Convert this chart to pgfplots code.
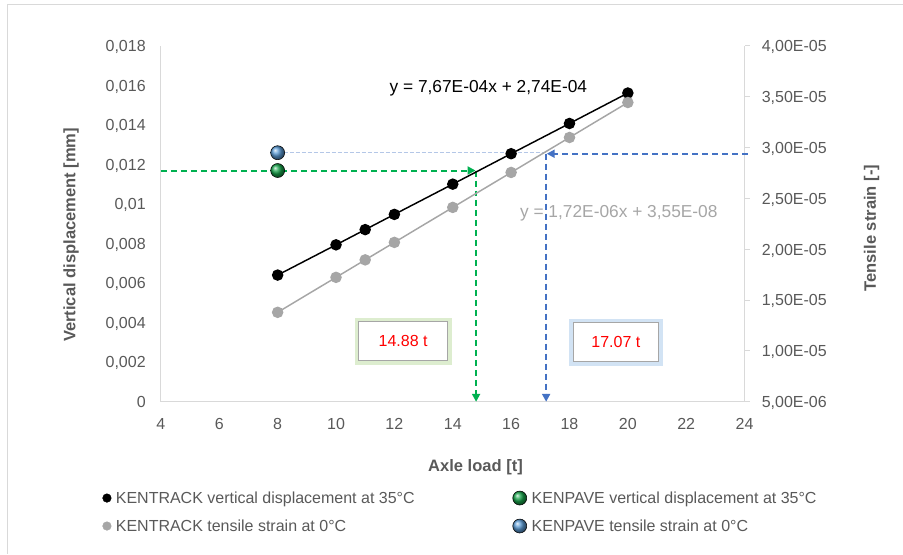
\documentclass[border=0pt]{standalone}
\usepackage{fontspec}
\setmainfont{Liberation Sans}
\usepackage{pgfplots}
\pgfplotsset{compat=1.18}
\usetikzlibrary{plotmarks,arrows.meta}
\definecolor{tickgray}{HTML}{595959}
\definecolor{axgray}{HTML}{D9D9D9}
\definecolor{sgray}{HTML}{A6A6A6}
\definecolor{ggreen}{HTML}{00B050}
\definecolor{bblue}{HTML}{4472C4}
\definecolor{lblue}{HTML}{B4C7E7}
\definecolor{ballgreen}{HTML}{17A34A}
\definecolor{ballblue}{HTML}{5B9BD5}
\definecolor{glowgreen}{HTML}{DDEDCF}
\definecolor{glowblue}{HTML}{D2E3F4}
\begin{document}
\begin{tikzpicture}
\path (0,0) rectangle (677.25pt,-415.5pt);
\draw[axgray, line width=0.75pt] (6pt,-415.5pt) -- (6pt,-3.75pt) -- (677.25pt,-3.75pt);

\begin{axis}[
  at={(120.75pt,-301.5pt)}, anchor=south west,
  scale only axis, width=438pt, height=267pt,
  xmin=4, xmax=24, ymin=0, ymax=0.018,
  clip=false,
  scaled x ticks=false, scaled y ticks=false,
  axis x line*=bottom, axis y line*=left,
  axis line style={axgray, line width=0.75pt, -},
  tick style={draw=none},
  xtick={4,6,8,10,12,14,16,18,20,22,24},
  xticklabels={4,6,8,10,12,14,16,18,20,22,24},
  ytick={0,0.002,0.004,0.006,0.008,0.01,0.012,0.014,0.016,0.018},
  yticklabels={0,{0,002},{0,004},{0,006},{0,008},{0,01},{0,012},{0,014},{0,016},{0,018}},
  /pgf/number format/assume math mode=true,
  tick label style={font=\fontsize{12}{14}\selectfont, text=tickgray},
  xticklabel style={inner sep=0pt, text height=8.6pt, text depth=0pt, anchor=north, yshift=-12.2pt},
  yticklabel style={inner sep=0pt, text height=8.6pt, text depth=0pt, anchor=east, xshift=-11.25pt},
  xlabel={Axle load [t]},
  xlabel style={at={(axis description cs:0.539,-0.1826)}, anchor=center, font=\bfseries\fontsize{12.4}{14}\selectfont, text=tickgray},
  ylabel={Vertical displacement [mm]},
  ylabel style={at={(axis description cs:-0.154,0.469)}, anchor=center, font=\bfseries\fontsize{12.4}{14}\selectfont, text=tickgray},
]
% faint guide line
\draw[lblue, line width=0.8pt, dash pattern=on 3pt off 1.5pt] (axis cs:8,0.012633) -- (axis cs:17.2,0.012633);
% green arrows
\draw[ggreen, line width=1.5pt, dash pattern=on 4.5pt off 3pt, -{Triangle[length=6pt,width=6pt]}] (axis cs:4,0.0117) -- (axis cs:14.78,0.0117);
\draw[ggreen, line width=1.5pt, dash pattern=on 4.5pt off 3pt, -{Triangle[length=6pt,width=6pt]}] (axis cs:14.8,0.0117) -- (axis cs:14.8,0);
% KENTRACK vertical displacement
\addplot[black, line width=1.1pt, mark=*, mark size=3.75pt] coordinates {
 (8,0.00641) (10,0.00794) (11,0.00871) (12,0.00948) (14,0.01101) (16,0.01255) (18,0.01408) (20,0.01562)};
% KENPAVE vertical displacement
\addplot[only marks, mark=ball, mark size=5.25pt, mark options={ball color=ballgreen}] coordinates {(8,0.0117)};
% equation and boxes
\node[font=\fontsize{13}{15}\selectfont, text=black] at (axis cs:15.22,0.015867) {y = 7,67E-04x + 2,74E-04};
\node[font=\fontsize{13}{15}\selectfont, text=sgray] at (axis cs:19.69,0.00955) {y = 1,72E-06x + 3,55E-08};
\node[draw=sgray, line width=0.6pt, fill=white, minimum width=66.75pt, minimum height=29.25pt,
      preaction={draw=glowgreen, line width=6pt}, text=red, font=\fontsize{12}{14}\selectfont]
      at (axis cs:12.30,0.003057) {14.88 t};
\node[draw=sgray, line width=0.6pt, fill=white, minimum width=64.5pt, minimum height=29.25pt,
      preaction={draw=glowblue, line width=6pt}, text=red, font=\fontsize{12}{14}\selectfont]
      at (axis cs:19.59,0.00301) {17.07 t};
\end{axis}

\begin{axis}[
  at={(120.75pt,-301.5pt)}, anchor=south west,
  scale only axis, width=438pt, height=267pt,
  xmin=4, xmax=24, ymin=5e-6, ymax=4e-5,
  clip=false,
  scaled x ticks=false, scaled y ticks=false,
  axis x line=none, axis y line*=right,
  axis line style={axgray, line width=0.75pt, -},
  ytick={5e-6,1e-5,1.5e-5,2e-5,2.5e-5,3e-5,3.5e-5,4e-5},
  yticklabels={{5,00E-06},{1,00E-05},{1,50E-05},{2,00E-05},{2,50E-05},{3,00E-05},{3,50E-05},{4,00E-05}},
  ytick style={axgray, line width=0.75pt},
  tick align=outside, major tick length=4pt,
  tick label style={font=\fontsize{12}{14}\selectfont, text=tickgray},
  yticklabel style={inner sep=0pt, text height=8.6pt, text depth=0pt, anchor=west, xshift=8.75pt},
  ylabel={Tensile strain [-]},
  ylabel style={at={(axis description cs:1.2175,0.488)}, anchor=center, font=\bfseries\fontsize{12.4}{14}\selectfont, text=tickgray},
  legend image code/.code={\draw[only marks,#1] plot coordinates {(0pt,0pt)};},
  legend columns=2,
  legend cell align=left,
  legend style={at={(axis description cs:-0.1002,-0.2447)}, anchor=north west,
     draw=none, fill=none, inner sep=0pt,
     font=\fontsize{12}{14}\selectfont, text=tickgray,
     row sep=7.6pt,
     nodes={inner sep=1pt, text height=10pt, text depth=1.4pt},
     /tikz/every odd column/.style={column sep=2.5pt},
     /tikz/every even column/.style={column sep=72.4pt}},
]
\addlegendimage{only marks, mark=*, black, mark size=3.2pt}
\addlegendentry{KENTRACK vertical displacement at 35°C}
\addlegendimage{only marks, mark=ball, mark size=5.25pt, mark options={ball color=ballgreen}}
\addlegendentry{KENPAVE vertical displacement at 35°C}
\addlegendimage{only marks, mark=*, sgray, mark size=3.2pt}
\addlegendentry{KENTRACK tensile strain at 0°C}
\addlegendimage{only marks, mark=ball, mark size=5.25pt, mark options={ball color=ballblue}}
\addlegendentry{KENPAVE tensile strain at 0°C}
% blue arrows
\draw[bblue, line width=1.5pt, dash pattern=on 4.5pt off 3pt, -{Triangle[length=6pt,width=6pt]}] (axis cs:24.1,2.94e-5) -- (axis cs:17.22,2.94e-5);
\draw[bblue, line width=1.5pt, dash pattern=on 4.5pt off 3pt, -{Triangle[length=6pt,width=6pt]}] (axis cs:17.2,2.94e-5) -- (axis cs:17.2,5e-6);
% KENTRACK tensile strain
\addplot[sgray, line width=1.1pt, mark=*, mark size=3.75pt, forget plot] coordinates {
 (8,1.380e-5) (10,1.724e-5) (11,1.896e-5) (12,2.068e-5) (14,2.412e-5) (16,2.756e-5) (18,3.100e-5) (20,3.444e-5)};
% KENPAVE tensile strain
\addplot[only marks, mark=ball, mark size=5.25pt, mark options={ball color=ballblue}, forget plot] coordinates {(8,2.95e-5)};
\end{axis}
\end{tikzpicture}
\end{document}
